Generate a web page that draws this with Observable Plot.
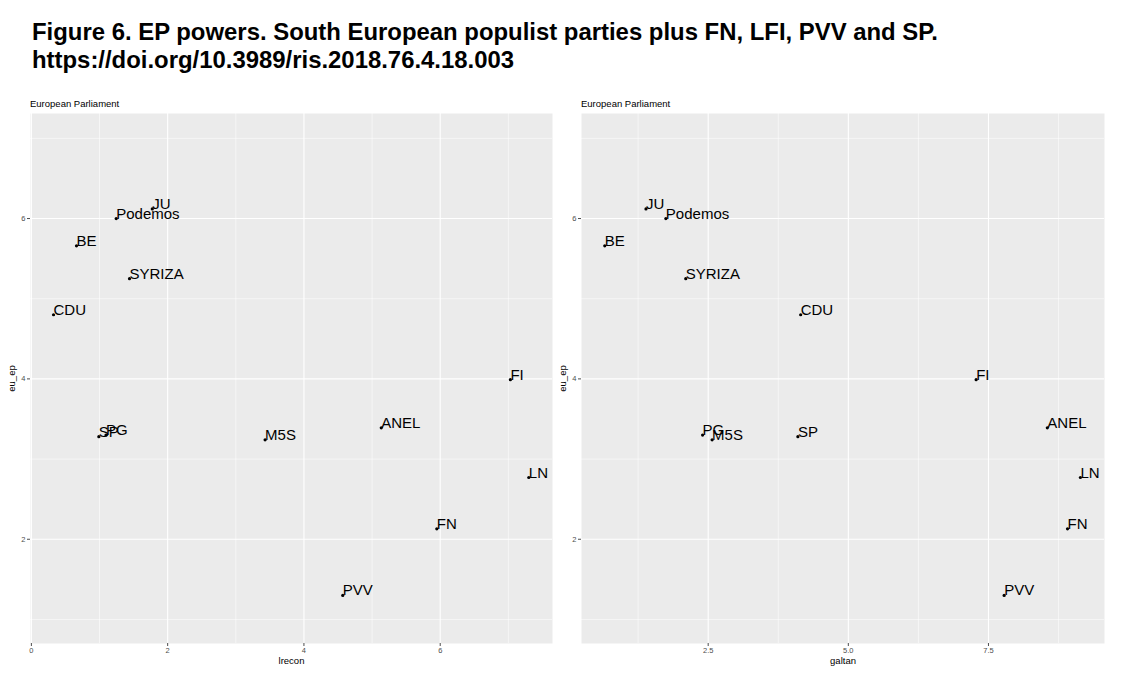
<!DOCTYPE html>
<html>
<head>
<meta charset="utf-8">
<script src="https://cdn.jsdelivr.net/npm/d3@7"></script>
<script src="https://cdn.jsdelivr.net/npm/@observablehq/plot@0.6"></script>
<style>
  body { margin: 0; background: #fff; font-family: "Liberation Sans", Arial, sans-serif; }
  #root { position: relative; width: 1124px; height: 681px; overflow: hidden; }
  #title { position: absolute; left: 32px; top: 18px; font-weight: bold; font-size: 23.9px; line-height: 28px; color: #000; white-space: nowrap; }
  .sub { position: absolute; top: 99px; font-size: 9.5px; line-height: 10px; color: #000; white-space: nowrap; }
  .panel { position: absolute; top: 110px; }
</style>
</head>
<body>
<div id="root">
  <div id="title">Figure 6. EP powers. South European populist parties plus FN, LFI, PVV and SP.<br>https://doi.org/10.3989/ris.2018.76.4.18.003</div>
  <div class="sub" style="left:30px">European Parliament</div>
  <div class="sub" style="left:581px">European Parliament</div>
  <div class="panel" id="left" style="left:0px"></div>
  <div class="panel" id="right" style="left:555px"></div>
</div>
<script>
const parties = ["JU","Podemos","BE","SYRIZA","CDU","SP","PG","M5S","ANEL","FI","LN","FN","PVV"];
const euEp    = [6.12, 6.00, 5.66, 5.25, 4.80, 3.28, 3.30, 3.24, 3.39, 3.99, 2.77, 2.13, 1.30];
const lrecon  = [1.774, 1.245, 0.662, 1.44, 0.325, 0.99, 1.095, 3.43, 5.135, 7.03, 7.30, 5.95, 4.57];
const galtan  = [1.39, 1.745, 0.655, 2.10, 4.15, 4.10, 2.40, 2.57, 8.55, 7.28, 9.14, 8.91, 7.78];

const yMajor = [2, 4, 6];
const yMinor = [1, 3, 5, 7];
const lMajor = [0, 2, 4, 6];
const lMinor = [1, 3, 5, 7];
const gMajor = [2.5, 5.0, 7.5];
const gMinor = [1.25, 3.75, 6.25, 8.75];

const rows = parties.map((p, i) => ({party: p, eu_ep: euEp[i], lrecon: lrecon[i], galtan: galtan[i]}));

const FONT = "Liberation Sans, Arial, sans-serif";

function panel(xKey, xDomain, major, minor, fmt, ml, mr) {
  return Plot.plot({
    width: 560,
    height: 570,
    marginLeft: ml,
    marginRight: mr,
    marginTop: 3,
    marginBottom: 37,
    style: {fontFamily: FONT, background: "transparent", overflow: "visible"},
    x: {domain: xDomain},
    y: {domain: [0.70, 7.31]},
    marks: [
      Plot.frame({fill: "#EBEBEB", stroke: null}),
      Plot.gridX(minor, {stroke: "#fff", strokeOpacity: 1, strokeWidth: 0.55}),
      Plot.gridY(yMinor, {stroke: "#fff", strokeOpacity: 1, strokeWidth: 0.55}),
      Plot.gridX(major, {stroke: "#fff", strokeOpacity: 1, strokeWidth: 1.1}),
      Plot.gridY(yMajor, {stroke: "#fff", strokeOpacity: 1, strokeWidth: 1.1}),
      Plot.axisX({ticks: major, tickFormat: fmt, tickSize: 3, tickPadding: 1.5, fontSize: 7.5, color: "#4d4d4d", label: null}),
      Plot.axisY({ticks: yMajor, tickFormat: d => String(d), tickSize: 3, tickPadding: 2, fontSize: 7.5, color: "#4d4d4d", label: null}),
      Plot.axisX({ticks: [], tickSize: 0, fontSize: 9.5, color: "#000",
                  label: xKey, labelAnchor: "center", labelArrow: "none", labelOffset: 20}),
      Plot.axisY({ticks: [], tickSize: 0, fontSize: 9.5, color: "#000",
                  label: "eu_ep", labelAnchor: "center", labelArrow: "none", labelOffset: 22}),
      Plot.dot(rows, {x: xKey, y: "eu_ep", r: 1.6, fill: "#000", stroke: null}),
      Plot.text(rows, {x: xKey, y: "eu_ep", text: "party", textAnchor: "start", lineAnchor: "bottom",
                       fontSize: 15, fill: "#000", fontFamily: FONT})
    ]
  });
}

document.getElementById("left").append(panel("lrecon", [-0.013, 7.648], lMajor, lMinor, d => String(d), 30, 8));
document.getElementById("right").append(panel("galtan", [0.24, 9.57], gMajor, gMinor, d => d.toFixed(1), 26, 11));
</script>
</body>
</html>
